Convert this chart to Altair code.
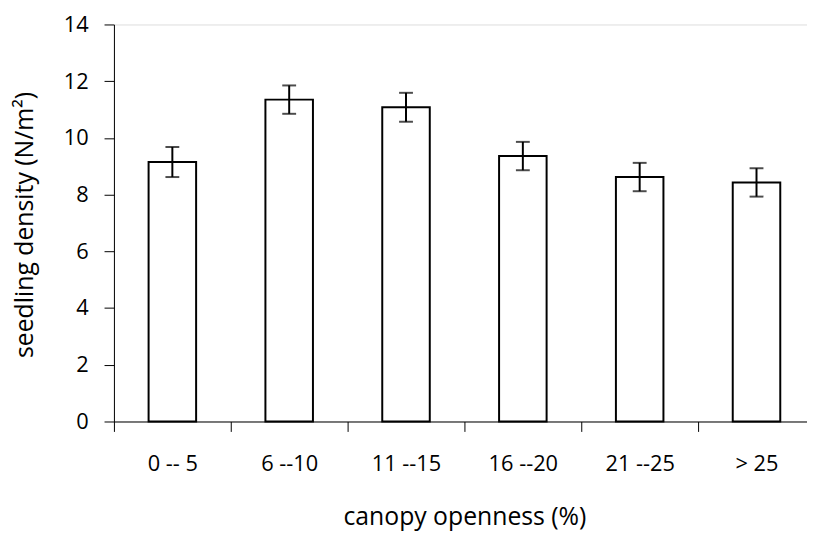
import altair as alt
import pandas as pd

categories = ["0 -- 5", "6 --10", "11 --15", "16 --20", "21 --25", "> 25"]
means = [9.15, 11.35, 11.08, 9.36, 8.62, 8.43]
errors = [0.53, 0.50, 0.51, 0.50, 0.50, 0.50]

df = pd.DataFrame({
    "cat": categories,
    "mean": means,
    "lo": [m - e for m, e in zip(means, errors)],
    "hi": [m + e for m, e in zip(means, errors)],
})

FONT = "Open Sans"

x = alt.X(
    "cat:N",
    sort=categories,
    scale=alt.Scale(range=[0, 708], paddingInner=0, paddingOuter=0),
    axis=alt.Axis(
        title="canopy openness (%)",
        labelAngle=0,
        tickBand="extent",
        tickSize=10,
        labelPadding=22,
        labelFontSize=22,
        labelFont=FONT,
        labelColor="black",
        titleFontSize=25,
        titleFont=FONT,
        titleFontWeight="normal",
        titleColor="black",
        titleX=354,
        titleY=104,
        titleAlign="center",
        titleBaseline="alphabetic",
        domainColor="black",
        tickColor="black",
        labelBaseline="top",
    ),
)

y_axis = alt.Axis(
    title="seedling density (N/m²)",
    values=[0, 2, 4, 6, 8, 10, 12, 14],
    grid=False,
    tickSize=10,
    labelPadding=16,
    labelFontSize=22,
    labelFont=FONT,
    labelColor="black",
    titleFontSize=25,
    titleFont=FONT,
    titleFontWeight="normal",
    titleColor="black",
    titleX=-82,
    titleY=202,
    titleAlign="center",
    titleBaseline="alphabetic",
    domainColor="black",
    tickColor="black",
)

bars = alt.Chart(df).mark_bar(size=48, fill="white", stroke="black", strokeWidth=2).encode(
    x=x,
    y=alt.Y("mean:Q", scale=alt.Scale(domain=[0, 14], nice=False, zero=True), axis=y_axis),
)

rules = alt.Chart(df).mark_rule(color="black", strokeWidth=2).encode(
    x=alt.X("cat:N", sort=categories),
    y="lo:Q",
    y2="hi:Q",
)

cap_hi = alt.Chart(df).mark_tick(color="black", size=14, thickness=2).encode(
    x=alt.X("cat:N", sort=categories),
    y="hi:Q",
)
cap_lo = alt.Chart(df).mark_tick(color="black", size=14, thickness=2).encode(
    x=alt.X("cat:N", sort=categories),
    y="lo:Q",
)

chart = alt.layer(bars, rules, cap_hi, cap_lo).properties(
    width=700,
    height=401,
    autosize=alt.AutoSizeParams(type="none"),
    padding={"left": 107, "top": 14, "right": 0, "bottom": 112},
).configure_view(stroke=None).configure(background="white")

chart.save("out.html", embed_options={"renderer": "svg", "actions": False})
